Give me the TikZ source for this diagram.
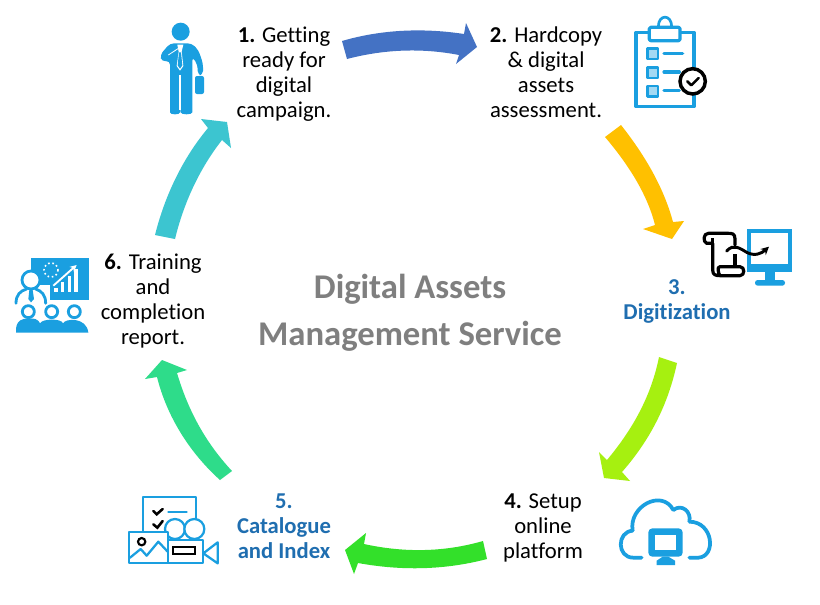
\documentclass[tikz,border=0pt]{standalone}
\usepackage{fontspec}
\setmainfont{Carlito}[Ligatures=NoCommon]
\usetikzlibrary{arrows.meta}
\definecolor{icon}{HTML}{1A9FE0}
\definecolor{lab}{HTML}{1F6EB0}
\definecolor{hub}{HTML}{7F7F7F}
\definecolor{aone}{HTML}{4472C4}
\definecolor{atwo}{HTML}{FFC000}
\definecolor{athree}{HTML}{A6F010}
\definecolor{afour}{HTML}{33E02A}
\definecolor{afive}{HTML}{2EDC8A}
\definecolor{asix}{HTML}{3CC5D0}
\tikzset{
  steptext/.style={align=center,inner sep=0pt,text=black,font=\fontsize{17}{18.75}\selectfont},
  bluetext/.style={align=center,inner sep=0pt,text=lab,font=\fontsize{17}{18.75}\selectfont\bfseries},
  hubtext/.style={inner sep=0pt,text=hub,font=\fontsize{26}{28}\selectfont\bfseries},
  ic/.style={draw=icon,line width=2.4pt,line join=round,line cap=round},
  zoomed/.style={x=.25pt,y=-.25pt}
}
\begin{document}
\begin{tikzpicture}[x=.75pt,y=-.75pt]
\useasboundingbox (0,0) rectangle (820,604);
\fill[white] (0,0) rectangle (820,604);

% block arrows
\fill[aone] (342,41) .. controls (383,29) and (425,28) .. (464,34) -- (466,23) -- (477,47) -- (456,64) -- (459,55) .. controls (423,48) and (385,49) .. (347,59) -- cycle;
\fill[atwo] (621,125) .. controls (643,153) and (663,185) .. (673,222) -- (684,221) -- (672,239) -- (643,229) -- (655,225) .. controls (647,193) and (627,163) .. (605,137) -- cycle;
\fill[athree] (677,363) .. controls (668,405) and (650,440) .. (622,472) -- (630,481) -- (604,478) -- (599,452) -- (607,460) .. controls (632,430) and (651,397) .. (659,357) -- cycle;
\fill[afour] (483,541) .. controls (445,552) and (405,553) .. (364,544) -- (366,533) -- (345,550) -- (354,574) -- (358,563) .. controls (402,571) and (445,570) .. (487,559) -- cycle;
\fill[afive] (232,471) .. controls (205,442) and (188,410) .. (177,373) -- (187,370) -- (162,360) -- (145,379) -- (157,377) .. controls (167,417) and (190,453) .. (220,480) -- cycle;
\fill[asix] (155,235) .. controls (165,195) and (183,158) .. (208,128) -- (201,119) -- (227,122) -- (231,148) -- (222,140) .. controls (200,168) and (184,202) .. (175,239) -- cycle;

% labels
\node[steptext] (s1) at (284,74.5) {\textbf{1.} Getting\\ready for\\digital\\campaign.};
\node[steptext] (s2) at (546,72.5) {\textbf{2.} Hardcopy\\\& digital\\assets\\assessment.};
\node[bluetext] (s3) at (677,301.5) {3.\\Digitization};
\node[steptext] (s4) at (543,528) {\textbf{4.} Setup\\online\\platform};
\node[bluetext] (s5) at (284,526) {5.\\Catalogue\\and Index};
\node[steptext] (s6) at (153,301.5) {\textbf{6.} Training\\and\\completion\\report.};
\node[hubtext] (h1) at (410,289) {Digital Assets};
\node[hubtext] (h2) at (410,336) {Management Service};

% person icon
\begin{scope}[shift={(130,0)},zoomed]
\fill[icon] (152,95) circle (27);
\fill[icon,rounded corners=3pt] (120,130) -- (185,130) -- (205,150) -- (219,190) -- (219,225) -- (203,225) -- (203,195) -- (187,170) -- (187,325) .. controls (187,345) and (152,345) .. (152,325) -- (152,225) -- (150,225) -- (150,325) .. controls (150,345) and (120,345) .. (120,325) -- (120,182) -- (95,185) -- (90,165) -- cycle;
\fill[icon,rounded corners=1.5pt] (195,228) rectangle (222,282);
\fill[white] (142,134) -- (160,134) -- (155,155) -- (160,198) -- (150,212) -- (140,198) -- (146,155) -- cycle;
\fill[icon] (147,157) -- (153,157) -- (157,196) -- (150,206) -- (143,196) -- cycle;
\draw[white,line width=.6pt] (115,165) -- (150,142);
\draw[white,line width=.8pt] (150,225) -- (150,330);
\end{scope}

% clipboard icon
\begin{scope}[shift={(620,10)},zoomed]
\draw[ic] (85,67) -- (48,67) -- (48,290) -- (222,290) -- (222,67) -- (180,67);
\draw[ic,fill=white,rounded corners=1pt] (88,52) rectangle (180,92);
\draw[ic,line width=2pt] (115,50) .. controls (115,12) and (155,12) .. (155,50);
\foreach \yy in {115,172,228}{
  \draw[ic,fill=icon!40!white,line width=2.2pt] (82,\yy) rectangle ++(32,32);
}
\draw[ic] (132,130) -- (188,130);
\draw[ic] (132,186) -- (178,186);
\draw[ic] (132,242) -- (178,242);
\draw[black,fill=white,line width=2.6pt] (218,214) circle (38);
\draw[black,line width=1.9pt,line cap=round,line join=round] (202,214) -- (214,226) -- (236,204);
\end{scope}

% digitization icon
\begin{scope}[shift={(690,215)},zoomed]
\fill[icon] (170,42) rectangle (305,172);
\fill[white] (182,54) rectangle (293,148);
\fill[icon] (225,172) rectangle (255,195);
\fill[icon,rounded corners=2pt] (195,195) rectangle (285,212);
\draw[black,line width=2.4pt,line join=round,line cap=round,fill=white]
  (135,90) -- (135,72) .. controls (135,55) and (125,55) .. (115,55) -- (55,55) .. controls (40,55) and (38,80) .. (50,85) -- (68,85) -- (68,165) .. controls (68,180) and (78,182) .. (90,182) -- (150,182) .. controls (165,182) and (165,155) .. (150,155) -- (90,155) .. controls (80,155) and (85,175) .. (90,182);
\draw[black,line width=2.4pt] (68,70) -- (68,85);
\draw[black,line width=2.4pt] (135,118) -- (135,155);
\draw[black,line width=2.2pt,line cap=round,-{Stealth[length=6pt,width=6pt]}] (110,108) .. controls (130,85) and (150,100) .. (170,112) .. controls (195,125) and (215,115) .. (237,95);
\end{scope}

% cloud icon
\begin{scope}[shift={(610,490)},zoomed]
\draw[ic,line width=2.8pt] (95,203) -- (70,203) .. controls (20,203) and (20,125) .. (68,122) .. controls (55,50) and (155,-5) .. (190,60) .. controls (215,40) and (245,65) .. (238,95) .. controls (310,95) and (320,200) .. (265,203) -- (238,203);
\fill[icon,rounded corners=3pt] (115,115) rectangle (218,200);
\fill[white] (135,135) rectangle (198,180);
\fill[icon] (158,200) -- (175,200) -- (195,212) -- (195,225) -- (140,225) -- (140,212) -- cycle;
\end{scope}

% catalogue icon
\begin{scope}[shift={(120,485)},zoomed]
\draw[ic,line width=1.7pt] (70,140) -- (70,37) -- (228,37) -- (228,105);
\draw[black,line width=1.9pt,line cap=round] (100,78) -- (110,88) -- (128,72);
\draw[black,line width=1.9pt,line cap=round] (100,118) -- (112,128) -- (128,108);
\draw[ic,line width=1.7pt] (145,80) -- (200,80);
\draw[ic,line width=1.7pt,fill=white] (165,132) circle (30);
\draw[ic,line width=1.7pt,fill=white] (223,132) circle (30);
\draw[ic,line width=1.7pt,fill=white] (28,140) rectangle (143,235);
\draw[ic,line width=1.7pt,fill=white] (143,165) rectangle (250,235);
\draw[ic,line width=1.7pt] (250,205) -- (293,172) -- (293,235) -- (250,205);
\draw[black,line width=1.6pt] (160,187) rectangle (225,206);
\draw[black,line width=1.6pt] (65,170) circle (11);
\draw[ic,line width=1.7pt] (30,218) -- (62,192) -- (80,212) -- (115,170) -- (143,200);
\end{scope}

% training icon
\begin{scope}[shift={(5,245)},zoomed]
\fill[icon] (78,38) rectangle (252,165);
\draw[white,line width=1.2pt,dotted] (138,75) circle (21);
\fill[white] (148,128) rectangle (158,140);
\fill[white] (168,110) rectangle (178,140);
\fill[white] (188,92) rectangle (198,140);
\fill[white] (208,72) rectangle (218,140);
\draw[white,line width=1.4pt,-{Stealth[length=5pt,width=5pt]}] (145,122) -- (215,60);
\fill[white] (20,120) rectangle (135,190);
\draw[ic,line width=2.1pt,fill=white] (78,105) circle (27);
\draw[ic,line width=2.1pt] (33,175) .. controls (33,150) and (45,138) .. (65,132);
\draw[ic,line width=2.1pt] (122,175) .. controls (122,150) and (110,138) .. (92,132);
\fill[icon] (73,135) -- (83,135) -- (87,162) -- (78,172) -- (70,162) -- cycle;
\foreach \xx in {70,140,208}{
  \draw[ic,line width=2.1pt,fill=white] (\xx,200) circle (18);
}
\fill[icon] (33,263) .. controls (30,225) and (55,218) .. (70,222) .. controls (85,218) and (100,222) .. (105,235) .. controls (112,220) and (170,220) .. (174,235) .. controls (180,220) and (245,215) .. (250,263) -- cycle;
\end{scope}
\end{tikzpicture}
\end{document}
